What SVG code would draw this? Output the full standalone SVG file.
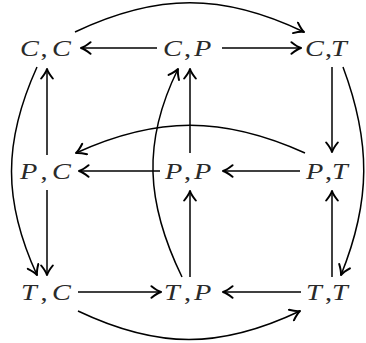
<svg xmlns="http://www.w3.org/2000/svg" width="366" height="343" viewBox="0 0 366 343">
<style>
.lbl{font-family:"Liberation Serif","Times New Roman",serif;font-size:24px;fill:#2a2a2a}
.it{font-style:italic}
.e{fill:none;stroke:#000;stroke-width:1.5;marker-end:url(#ah)}
</style>
<defs>
<marker id="ah" markerUnits="userSpaceOnUse" viewBox="-12 -7 14 14" refX="0" refY="0" markerWidth="14" markerHeight="14" orient="auto">
<path d="M -9.5,-5.8 C -6,-3 -2.5,-0.8 0,0 C -2.5,0.8 -6,3 -9.5,5.8" fill="none" stroke="#000" stroke-width="2" stroke-linecap="round" stroke-linejoin="round"/>
</marker>
</defs>
<rect width="366" height="343" fill="#fff"/>
<g id="connectors">
<path class="e" d="M157,48 H81"/>
<path class="e" d="M222,48 H301"/>
<path class="e" d="M75,32 C157,-7 223,-7 304,32"/>
<path class="e" d="M160,171 H79"/>
<path class="e" d="M300,171 H223"/>
<path class="e" d="M305,153 C223,116 157,116 76,153"/>
<path class="e" d="M78,292 H161"/>
<path class="e" d="M301,292 H223"/>
<path class="e" d="M78,311 C158,349 220,349 300,311"/>
<path class="e" d="M47,155 V69"/>
<path class="e" d="M47,190 V275"/>
<path class="e" d="M37,67 C3,142 3,201 37,275"/>
<path class="e" d="M190,153 V69"/>
<path class="e" d="M190,277 V191"/>
<path class="e" d="M182,277 C146,203 142,142 178,69"/>
<path class="e" d="M332,67 V152"/>
<path class="e" d="M332,277 V191"/>
<path class="e" d="M343,67 C371,142 371,201 341,275"/>
</g>
<g id="CC"><text class="lbl" transform="matrix(1.18,0,0,1,20,56)"><tspan class="it" x="0">C</tspan><tspan x="17.4">,</tspan><tspan class="it" x="27.1">C</tspan></text></g>
<g id="CP"><text class="lbl" transform="matrix(1.18,0,0,1,163,56)"><tspan class="it" x="0">C</tspan><tspan x="17.8">,</tspan><tspan class="it" x="26.3">P</tspan></text></g>
<g id="CT"><text class="lbl" transform="matrix(1.18,0,0,1,305,56)"><tspan class="it" x="0">C</tspan><tspan x="16.9">,</tspan><tspan class="it" x="22">T</tspan></text></g>
<g id="PC"><text class="lbl" transform="matrix(1.18,0,0,1,20,179)"><tspan class="it" x="0">P</tspan><tspan x="17.4">,</tspan><tspan class="it" x="27.1">C</tspan></text></g>
<g id="PP"><text class="lbl" transform="matrix(1.18,0,0,1,165,179)"><tspan class="it" x="0">P</tspan><tspan x="16.1">,</tspan><tspan class="it" x="24.6">P</tspan></text></g>
<g id="PT"><text class="lbl" transform="matrix(1.18,0,0,1,306,179)"><tspan class="it" x="0">P</tspan><tspan x="16.1">,</tspan><tspan class="it" x="22">T</tspan></text></g>
<g id="TC"><text class="lbl" transform="matrix(1.18,0,0,1,21,300)"><tspan class="it" x="0">T</tspan><tspan x="16.5">,</tspan><tspan class="it" x="26.3">C</tspan></text></g>
<g id="TP"><text class="lbl" transform="matrix(1.18,0,0,1,164,300)"><tspan class="it" x="0">T</tspan><tspan x="16.9">,</tspan><tspan class="it" x="25.4">P</tspan></text></g>
<g id="TT"><text class="lbl" transform="matrix(1.18,0,0,1,306,300)"><tspan class="it" x="0">T</tspan><tspan x="16.1">,</tspan><tspan class="it" x="22">T</tspan></text></g>
</svg>
